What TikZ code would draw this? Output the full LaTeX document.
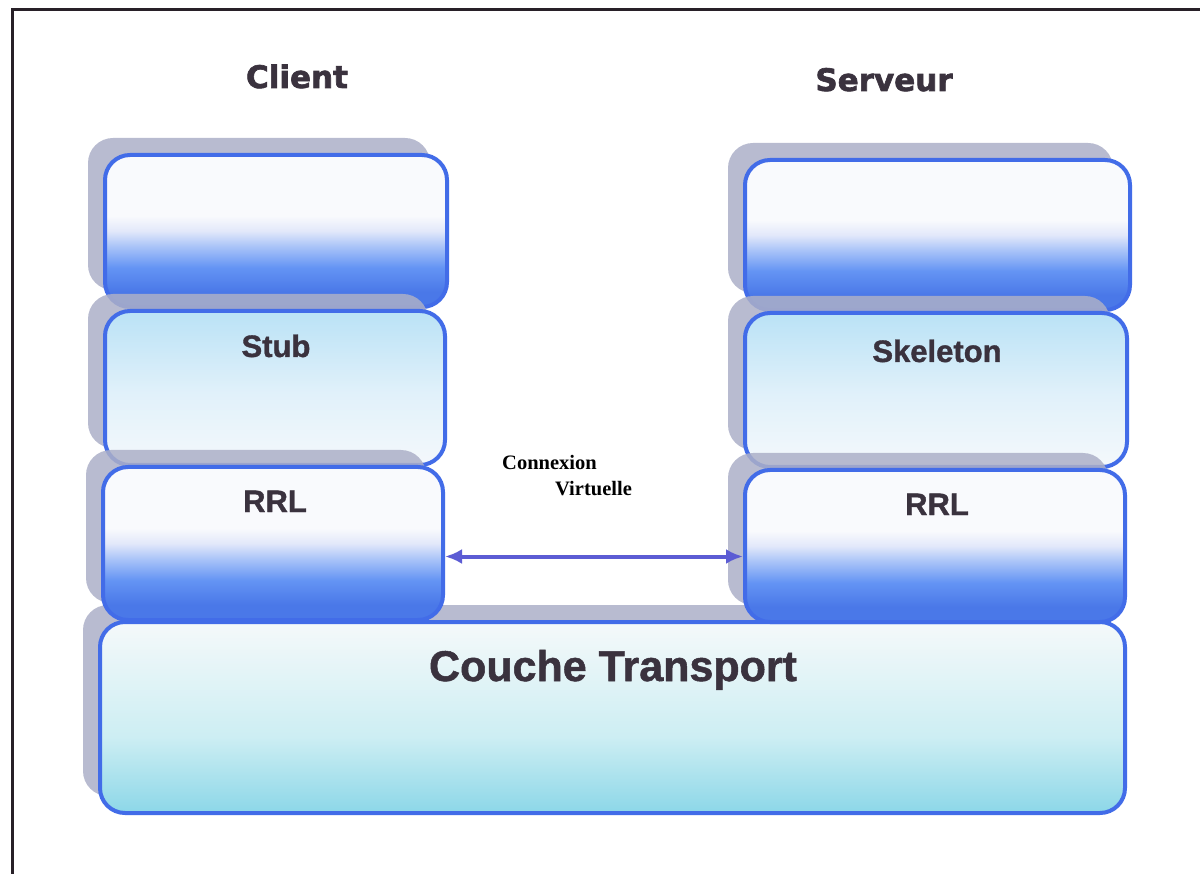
\documentclass[tikz,border=0pt]{standalone}
\usepackage{fontspec}
\usetikzlibrary{shadows,arrows.meta,calc}
\newfontfamily\arb{Liberation Sans}[BoldFeatures={FakeBold=1.2}]
\newfontfamily\djv{DejaVu Sans}[BoldFeatures={FakeBold=2}]
\newfontfamily\tms{Liberation Serif}
\definecolor{bord}{RGB}{66,108,232}
\definecolor{shad}{RGB}{172,176,200}
\definecolor{txt}{RGB}{58,50,62}
\definecolor{arrc}{RGB}{92,92,212}
\definecolor{frm}{RGB}{40,32,40}
\definecolor{bA}{RGB}{74,120,232}
\definecolor{bB}{RGB}{100,148,244}
\definecolor{bC}{RGB}{170,196,248}
\definecolor{bD}{RGB}{226,232,250}
\definecolor{wW}{RGB}{249,250,253}
\definecolor{sTop}{RGB}{186,226,246}
\definecolor{sMid}{RGB}{225,241,250}
\definecolor{sBot}{RGB}{244,248,251}
\definecolor{tTop}{RGB}{245,249,250}
\definecolor{tMid}{RGB}{205,238,243}
\definecolor{tBot}{RGB}{140,215,232}
\pgfdeclareverticalshading{blueshade}{100bp}{color(0bp)=(bA); color(30bp)=(bA); color(38bp)=(bB); color(45bp)=(bC); color(50bp)=(bD); color(55bp)=(wW); color(75bp)=(wW); color(100bp)=(wW)}
\pgfdeclareverticalshading{stubshade}{100bp}{color(0bp)=(sBot); color(25bp)=(sBot); color(48bp)=(sMid); color(75bp)=(sTop); color(100bp)=(sTop)}
\pgfdeclareverticalshading{trshade}{100bp}{color(0bp)=(tBot); color(25bp)=(tBot); color(45bp)=(tMid); color(75bp)=(tTop); color(100bp)=(tTop)}
\tikzset{
  layer/.style={rectangle, rounded corners=25pt, draw=bord, line width=4pt, inner sep=0pt,
    general shadow={fill=shad, shadow xshift=-17pt, shadow yshift=17pt, opacity=0.85}},
  bluebox/.style={layer, shading=blueshade},
  stubbox/.style={layer, shading=stubshade},
  trbox/.style={layer, shading=trshade},
  ttl/.style={anchor=base, text=txt, inner sep=0pt, font=\djv\bfseries\fontsize{31}{36}\selectfont},
  lbl/.style={anchor=base, text=txt, inner sep=0pt, font=\arb\bfseries\fontsize{31}{36}\selectfont},
  big/.style={anchor=base, text=txt, inner sep=0pt, font=\arb\bfseries\fontsize{43}{48}\selectfont},
  note/.style={anchor=base west, text=black, inner sep=0pt, font=\tms\bfseries\fontsize{20.5}{24}\selectfont},
  conn/.style={draw=arrc, line width=4pt, {Latex[length=17pt,width=15pt]}-{Latex[length=17pt,width=15pt]}}
}
\begin{document}
\begin{tikzpicture}[x=1pt,y=-1pt]
\useasboundingbox[fill=white] (0,0) rectangle (1200,874);
\draw[frm, line width=3pt] (1200,10) -- (12,10) -- (12,874);
% transport layer
\node[trbox, minimum width=1025pt, minimum height=191pt] (tr) at (612.5,717.5) {};
% client stack
\node[bluebox, minimum width=342pt, minimum height=152pt] (cA) at (276,231) {};
\node[stubbox, minimum width=340pt, minimum height=154pt] (cS) at (275,388) {};
\node[bluebox, minimum width=340pt, minimum height=153pt] (cR) at (273,543.5) {};
% server stack
\node[bluebox, minimum width=385pt, minimum height=150pt] (sA) at (937.5,235) {};
\node[stubbox, minimum width=382pt, minimum height=154pt] (sS) at (936,390) {};
\node[bluebox, minimum width=380pt, minimum height=152pt] (sR) at (935,546) {};
% texts
\node[ttl] (tC) at (297,88) {Client};
\node[ttl] (tSv) at (884,91) {Serveur};
\node[lbl] (tS) at (276,357) {Stub};
\node[lbl] (tK) at (937,362) {Skeleton};
\node[lbl] (tR1) at (275,512) {RRL};
\node[lbl] (tR2) at (937,515) {RRL};
\node[big] (tT) at (613,681) {Couche Transport};
\node[note] (n1) at (502,470) {Connexion};
\node[note] (n2) at (555,496) {Virtuelle};
% virtual connection
\coordinate (aL) at ([yshift=-13pt]cR.east);
\draw[conn] (aL) -- (aL -| sR.west);
\end{tikzpicture}
\end{document}
